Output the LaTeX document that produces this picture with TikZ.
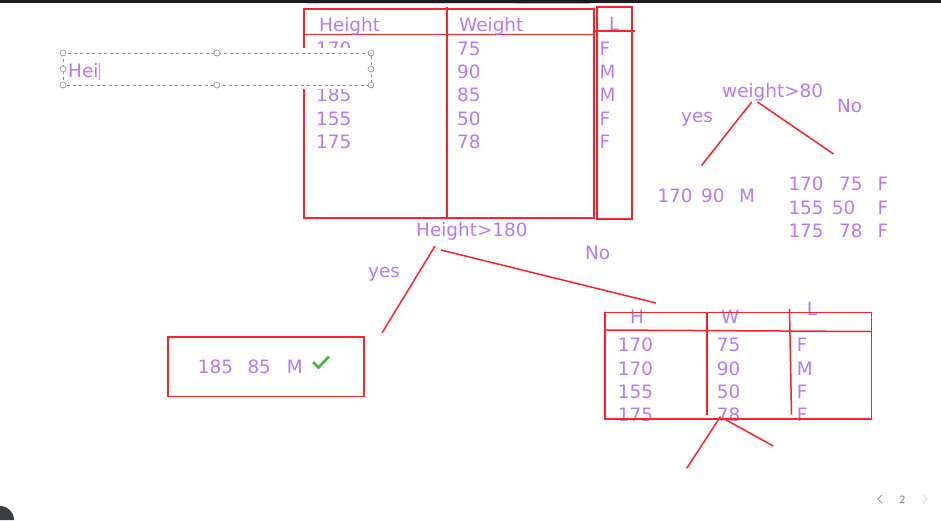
\documentclass[tikz,border=0pt]{standalone}
\usepackage{fontspec}
\setmainfont{DejaVu Sans}
\definecolor{pur}{RGB}{180,122,250}
\definecolor{rd}{RGB}{255,32,40}
\definecolor{topbar}{RGB}{28,28,30}
\definecolor{chk}{RGB}{72,178,72}
\definecolor{darkc}{RGB}{58,61,66}
\begin{document}
\begin{tikzpicture}[x=1pt,y=-1pt,
  txt/.style={anchor=base west,inner sep=0pt,text=pur,font=\fontsize{18.4}{22}\selectfont},
  redl/.style={draw=rd,line width=1.5pt},
  hnd/.style={circle,draw=gray!90,fill=white,inner sep=0pt,minimum size=6pt,line width=0.6pt},
  pg/.style={anchor=base,inner sep=0pt,text=gray,font=\fontsize{10}{12}\selectfont}]
\useasboundingbox (0,0) rectangle (941,520);
\fill[white] (0,0) rectangle (941,520);
\fill[topbar] (0,0) rectangle (941,3);
\draw[green!40!white,line width=1pt] (306,3.5) -- (515,3.5);
\draw[red!40!white,line width=1pt] (515,3.5) -- (590,3.5);

% main table
\draw[redl] (304,9) rectangle (594,218);
\draw[redl] (304,34.5) -- (594,34.5);
\draw[redl] (447,7) -- (447,218);
\draw[redl] (597,7) rectangle (632,219);
\draw[redl] (594,31) -- (635,31);
\node[txt] (th1) at (319,31) {Height};
\node[txt] (th2) at (459,31) {Weight};
\node[txt] (th3) at (609,30) {L};
\node[txt] (m11) at (316,55) {170};
\node[txt] (m12) at (457,55) {75};
\node[txt] (m13) at (599.5,55) {F};
\node[txt] (m21) at (316,78.3) {170};
\node[txt] (m22) at (457,78.3) {90};
\node[txt] (m23) at (599.5,78.3) {M};
\node[txt] (m31) at (316,101.7) {185};
\node[txt] (m32) at (457,101.7) {85};
\node[txt] (m33) at (599.5,101.7) {M};
\node[txt] (m41) at (316,125) {155};
\node[txt] (m42) at (457,125) {50};
\node[txt] (m43) at (599.5,125) {F};
\node[txt] (m51) at (316,148.3) {175};
\node[txt] (m52) at (457,148.3) {78};
\node[txt] (m53) at (599.5,148.3) {F};

% text box being edited
\fill[white] (58,48) rectangle (376,89);
\draw[gray!90,line width=0.6pt,dash pattern=on 3pt off 3pt] (63,53) rectangle (371,85);
\foreach \p/\q in {c1/{63,53},c2/{217,53},c3/{371,53},c4/{63,69},c5/{371,69},c6/{63,85},c7/{217,85},c8/{371,85}}
  \node[hnd] (\p) at (\q) {};
\node[txt] (hei) at (68,77) {Hei};
\draw[gray!60,line width=0.5pt] (99,63) -- (99,80);

% first split
\node[txt] (split1) at (416,236) {Height>180};
\node[txt] (yes1) at (368,277) {yes};
\node[txt] (no1) at (585,259) {No};
\coordinate (a1) at (435,246);
\coordinate (a2) at (382,333);
\coordinate (b1) at (441,250);
\coordinate (b2) at (656,303);
\draw[redl] (a1) -- (a2);
\draw[redl] (b1) -- (b2);

% leaf box
\draw[redl] (168,337) rectangle (364,396.5);
\node[txt] (l1) at (197.7,373.3) {185};
\node[txt] (l2) at (247.3,373.3) {85};
\node[txt] (l3) at (286.7,373.3) {M};
\draw[chk,line width=2.6pt] (313,362) -- (318.5,367.5) -- (329,356.5);

% weight tree
\node[txt] (split2) at (722,97) {weight>80};
\node[txt] (yes2) at (681,122) {yes};
\node[txt] (no2) at (837,112) {No};
\coordinate (w1) at (751.7,102);
\coordinate (w2) at (701.5,165.5);
\coordinate (w3) at (757.5,102);
\coordinate (w4) at (833.5,154);
\draw[redl] (w1) -- (w2);
\draw[redl] (w3) -- (w4);
\node[txt] (y1) at (657.3,202.7) {170};
\node[txt] (y2) at (701,202.7) {90};
\node[txt] (y3) at (739,202.7) {M};
\node[txt] (n11) at (788.3,190.7) {170};
\node[txt] (n12) at (839,190.7) {75};
\node[txt] (n13) at (877.3,190.7) {F};
\node[txt] (n21) at (788.3,214.3) {155};
\node[txt] (n22) at (831.7,214.3) {50};
\node[txt] (n23) at (877.3,214.3) {F};
\node[txt] (n31) at (788.3,237.7) {175};
\node[txt] (n32) at (839,237.7) {78};
\node[txt] (n33) at (877.3,237.7) {F};

% bottom table
\node[txt] (bh1) at (630,323.3) {H};
\node[txt] (bh2) at (721,323.3) {W};
\node[txt] (bh3) at (806.7,315) {L};
\node[txt] (b11) at (617.7,351.7) {170};
\node[txt] (b12) at (716.7,351.7) {75};
\node[txt] (b13) at (796.7,351.7) {F};
\node[txt] (b21) at (617.7,375) {170};
\node[txt] (b22) at (716.7,375) {90};
\node[txt] (b23) at (796.7,375) {M};
\node[txt] (b31) at (617.7,398.3) {155};
\node[txt] (b32) at (716.7,398.3) {50};
\node[txt] (b33) at (796.7,398.3) {F};
\node[txt] (b41) at (617.7,421.7) {175};
\node[txt] (b42) at (716.7,421.7) {78};
\node[txt] (b43) at (796.7,421.7) {F};
\draw[redl] (605,312.5) rectangle (871.5,419);
\draw[redl] (605,330) -- (871.5,331.5);
\draw[redl] (707,312) -- (707,414.5);
\draw[redl] (789.5,309) -- (791.5,414.5);
\coordinate (c9) at (720.5,416.5);
\coordinate (c10) at (686.7,468.3);
\coordinate (c11) at (723.5,418.5);
\coordinate (c12) at (773.3,446);
\draw[redl] (c9) -- (c10);
\draw[redl] (c11) -- (c12);

% page indicator
\draw[gray!80,line width=0.8pt] (882,495) -- (878,499) -- (882,503);
\node[pg] (pnum) at (902.5,503) {2};
\draw[gray!30,line width=0.8pt] (923,495) -- (927,499) -- (923,503);

% corner
\fill[darkc] (0,520) -- (0,506) arc[start angle=-90,end angle=0,radius=14] -- cycle;
\end{tikzpicture}
\end{document}
